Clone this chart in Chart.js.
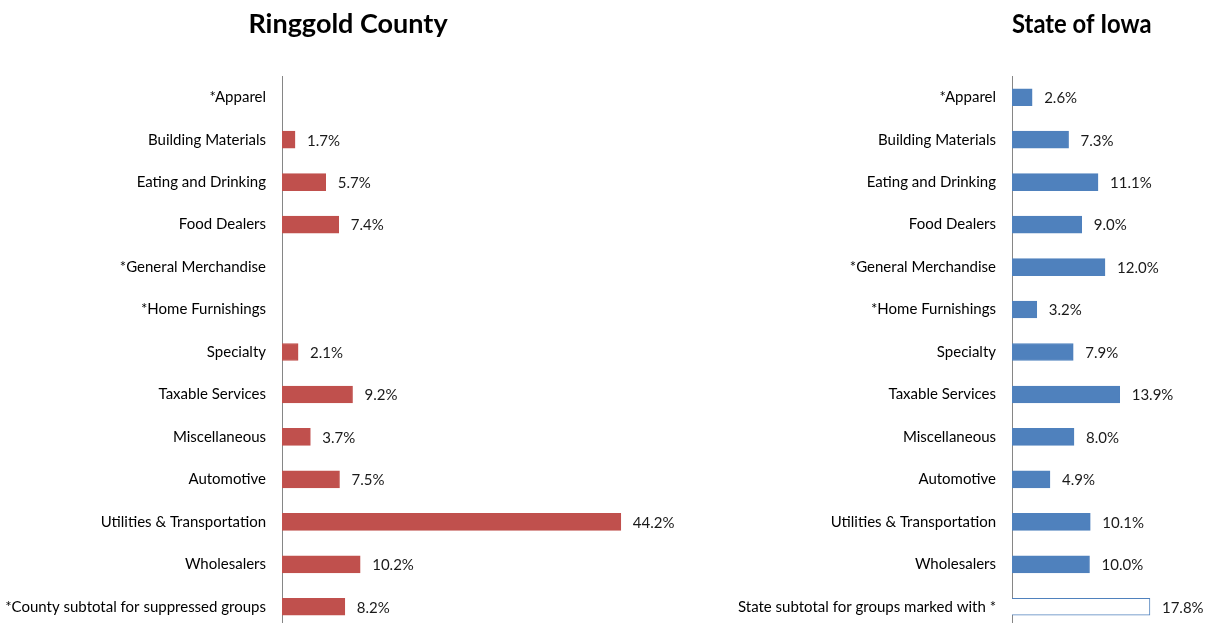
<!DOCTYPE html>
<html>
<head>
<meta charset="utf-8">
<script src="https://cdn.jsdelivr.net/npm/chart.js@4/dist/chart.umd.min.js"></script>
<style>
html,body{margin:0;padding:0;background:#fff;overflow:hidden;width:1206px;height:623px;}
canvas{position:absolute;top:0;}
#left{left:0;}
#right{left:700px;}
</style>
</head>
<body>
<canvas id="left" width="700" height="653"></canvas>
<canvas id="right" width="506" height="653"></canvas>
<script>
const countyCategories = ["*Apparel","Building Materials","Eating and Drinking","Food Dealers","*General Merchandise","*Home Furnishings","Specialty","Taxable Services","Miscellaneous","Automotive","Utilities & Transportation","Wholesalers","*County subtotal for suppressed groups"];
const stateCategories = ["*Apparel","Building Materials","Eating and Drinking","Food Dealers","*General Merchandise","*Home Furnishings","Specialty","Taxable Services","Miscellaneous","Automotive","Utilities & Transportation","Wholesalers","State subtotal for groups marked with *"];
const countyValues = [null,1.7,5.7,7.4,null,null,2.1,9.2,3.7,7.5,44.2,10.2,8.2];
const stateValues = [2.6,7.3,11.1,9.0,12.0,3.2,7.9,13.9,8.0,4.9,10.1,10.0,17.8];

const FONT = "Lato, 'Open Sans', sans-serif";

const valueLabels = {
  id: 'valueLabels',
  afterDatasetsDraw(chart) {
    const ctx = chart.ctx;
    ctx.save();
    ctx.font = "15px " + FONT;
    ctx.fillStyle = '#1a1a1a';
    ctx.textAlign = 'left';
    ctx.textBaseline = 'middle';
    const meta = chart.getDatasetMeta(0);
    const data = chart.data.datasets[0].data;
    meta.data.forEach((bar, i) => {
      const v = data[i];
      if (v === null || v === undefined) return;
      ctx.fillText(v.toFixed(1) + '%', bar.x + 12, bar.y + 1);
    });
    ctx.restore();
  }
};

function makeChart(id, title, labels, values, bg, border, yWidth, xMax, padRight, fullSizeTitle) {
  return new Chart(document.getElementById(id), {
    type: 'bar',
    data: {
      labels: labels,
      datasets: [{
        data: values,
        backgroundColor: bg,
        borderColor: border,
        borderWidth: 1,
        barThickness: 17
      }]
    },
    options: {
      indexAxis: 'y',
      responsive: false,
      animation: false,
      layout: { padding: { left: 0, right: padRight, top: 0, bottom: 0 } },
      plugins: {
        legend: { display: false },
        tooltip: { enabled: false },
        title: {
          display: true,
          text: title,
          color: '#000',
          fullSize: fullSizeTitle,
          font: { family: FONT, size: 27, weight: 'bold', lineHeight: 1.2 },
          padding: { top: 7.8, bottom: 35.8 }
        }
      },
      scales: {
        x: { display: false, min: 0, max: xMax },
        y: {
          grid: { display: false, drawTicks: false },
          border: { display: true, color: '#868686', width: 1 },
          ticks: { color: '#000', font: { family: FONT, size: 15 }, padding: 16, autoSkip: false },
          afterFit(scale) { scale.width = yWidth; }
        }
      }
    },
    plugins: [valueLabels]
  });
}

makeChart('left', 'Ringgold County', countyCategories, countyValues, '#C0504D', '#C0504D', 282, 54, 4, true);
const stateBg = stateValues.map((v, i) => i === stateValues.length - 1 ? '#FFFFFF' : '#4F81BD');
makeChart('right', 'State of Iowa', stateCategories, stateValues, stateBg, '#4F81BD', 312, 18, 54.5, false);
</script>
</body>
</html>
